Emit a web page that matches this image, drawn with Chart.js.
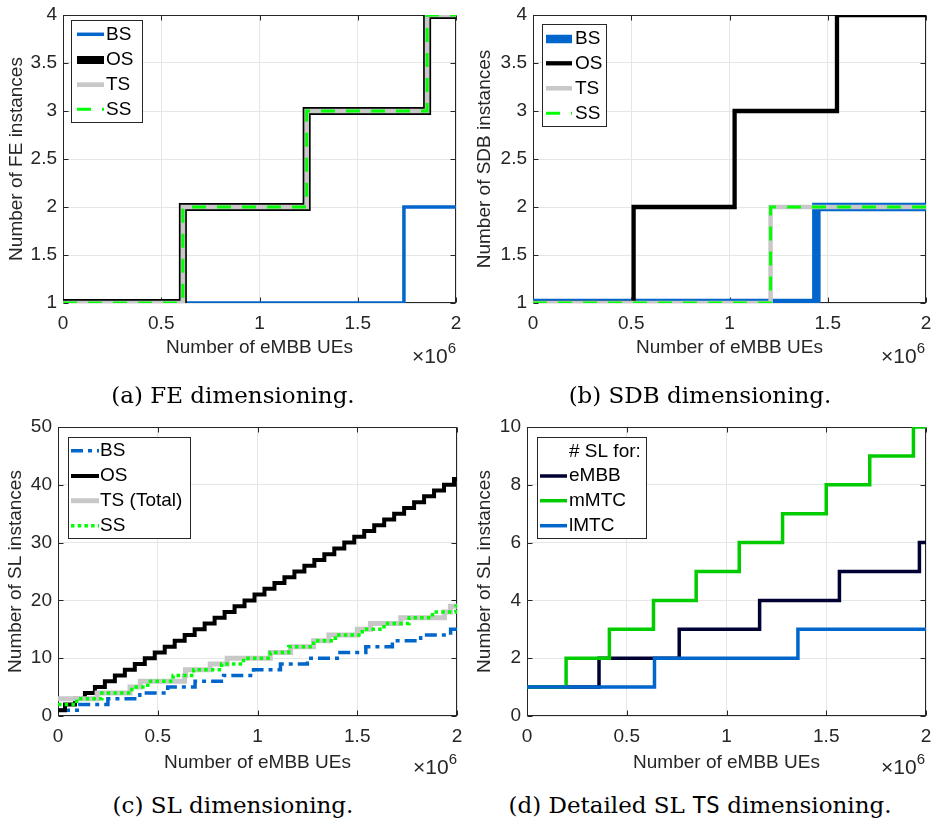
<!DOCTYPE html>
<html>
<head>
<meta charset="utf-8">
<script src="https://cdn.jsdelivr.net/npm/chart.js@4/dist/chart.umd.min.js"></script>
<style>
  body { margin: 0; background: #fff; width: 933px; height: 823px; position: relative; overflow: hidden; font-family: "Liberation Sans", Arial, sans-serif; }
  canvas { position: absolute; }
  .cap { position: absolute; width: 466px; text-align: center; font-family: "DejaVu Serif", serif; font-size: 23px; line-height: 28px; color: #000; white-space: nowrap; }
  .cap .tt { font-family: "DejaVu Sans Mono", monospace; }
  .exp { position: absolute; font-family: "Liberation Sans", Arial, sans-serif; font-size: 21px; line-height: 22px; color: #262626; white-space: nowrap; }
  .exp .sup { font-size: 15px; position: relative; top: -10px; }
</style>
</head>
<body>
<canvas id="chartA" width="466" height="360" style="left:0;top:0"></canvas>
<canvas id="chartB" width="467" height="360" style="left:466px;top:0"></canvas>
<canvas id="chartC" width="466" height="376" style="left:0;top:400px"></canvas>
<canvas id="chartD" width="467" height="376" style="left:466px;top:400px"></canvas>

<div class="exp" style="left:412px;top:345px">×10<span class="sup">6</span></div>
<div class="exp" style="left:881px;top:345px">×10<span class="sup">6</span></div>
<div class="exp" style="left:413px;top:756px">×10<span class="sup">6</span></div>
<div class="exp" style="left:881px;top:756px">×10<span class="sup">6</span></div>

<div class="cap" style="left:0;top:381px">(a) FE dimensioning.</div>
<div class="cap" style="left:467px;top:381px">(b) SDB dimensioning.</div>
<div class="cap" style="left:0;top:791px">(c) SL dimensioning.</div>
<div class="cap" style="left:467px;top:791px">(d) Detailed SL <span class="tt">TS</span> dimensioning.</div>

<script>
// x values are in units of 10^6 eMBB UEs; each x is where a step starts

// (a) FE dimensioning
const feBS_x = [0, 1.735, 2];
const feBS_y = [1, 2, 2];
const feOS_x = [0, 0.61, 1.24, 1.853, 2];
const feOS_y = [1, 2, 3, 4, 4];
const feTS_x = [0, 0.61, 1.24, 1.853, 2];
const feTS_y = [1, 2, 3, 4, 4];
const feSS_x = [0, 0.61, 1.24, 1.853, 2];
const feSS_y = [1, 2, 3, 4, 4];

// (b) SDB dimensioning
const sdbBS_x = [0, 1.442, 2];
const sdbBS_y = [1, 2, 2];
const sdbOS_x = [0, 0.512, 1.026, 1.547, 2];
const sdbOS_y = [1, 2, 3, 4, 4];
const sdbTS_x = [0, 1.209, 2];
const sdbTS_y = [1, 2, 2];
const sdbSS_x = [0, 1.209, 2];
const sdbSS_y = [1, 2, 2];

// (c) SL dimensioning
const slBS_x = [0, 0.11, 0.25, 0.41, 0.55, 0.687, 0.83, 0.98, 1.115, 1.25, 1.40, 1.543, 1.676, 1.818, 1.968, 2];
const slBS_y = [1, 2, 3, 4, 5, 6, 7, 8, 9, 10, 11, 12, 13, 14, 15, 15];
const slOS_x = [0, 0.035, 0.085, 0.135, 0.185, 0.235, 0.285, 0.335, 0.385, 0.435, 0.485,
  0.535, 0.585, 0.635, 0.685, 0.735, 0.785, 0.835, 0.885, 0.935, 0.985,
  1.035, 1.085, 1.135, 1.185, 1.235, 1.285, 1.335, 1.385, 1.435, 1.485,
  1.535, 1.585, 1.635, 1.685, 1.735, 1.785, 1.835, 1.885, 1.935, 1.985, 2];
const slOS_y = [1, 2, 3, 4, 5, 6, 7, 8, 9, 10, 11, 12, 13, 14, 15, 16, 17, 18, 19, 20, 21,
  22, 23, 24, 25, 26, 27, 28, 29, 30, 31, 32, 33, 34, 35, 36, 37, 38, 39, 40, 41, 41];
const slTS_x = [0, 0.196, 0.361, 0.413, 0.634, 0.639, 0.763, 0.848, 1.064, 1.166, 1.281, 1.358, 1.50, 1.566, 1.718, 1.937, 1.967, 2];
const slTS_y = [3, 4, 5, 6, 7, 8, 9, 10, 11, 12, 13, 14, 15, 16, 17, 18, 19, 19];
const slSS_x = [0, 0.094, 0.22, 0.37, 0.45, 0.577, 0.68, 0.82, 0.93, 1.064, 1.156, 1.281, 1.39, 1.525, 1.634, 1.76, 1.877, 1.994, 2];
const slSS_y = [2, 3, 4, 5, 6, 7, 8, 9, 10, 11, 12, 13, 14, 15, 16, 17, 18, 19, 19];

// (d) detailed SL TS dimensioning
const tsEMBB_x = [0, 0.361, 0.763, 1.166, 1.566, 1.967, 2];
const tsEMBB_y = [1, 2, 3, 4, 5, 6, 6];
const tsMMTC_x = [0, 0.196, 0.413, 0.634, 0.848, 1.064, 1.281, 1.50, 1.718, 1.937, 2];
const tsMMTC_y = [1, 2, 3, 4, 5, 6, 7, 8, 9, 10, 10];
const tsLMTC_x = [0, 0.639, 1.358, 2];
const tsLMTC_y = [1, 2, 3, 3];

const FONT = '"Liberation Sans", Arial, sans-serif';
Chart.defaults.font.family = FONT;
Chart.defaults.font.size = 19;
Chart.defaults.color = '#262626';

const BLUE = '#0066cc', GRAY = '#c8c8c8', LIME = '#00ff00';

function pts(xs, ys) {
  return xs.map((x, i) => ({ x: x, y: ys[i] }));
}

function line(label, xs, ys, color, width, order, dash) {
  return {
    label: label,
    data: pts(xs, ys),
    borderColor: color,
    borderWidth: width,
    borderDash: dash || [],
    stepped: 'before',
    pointRadius: 0,
    fill: false,
    order: order
  };
}

// plain number labels: 1, 1.5, 2 ... (not 1.0, 2.0)
const plainTick = v => String(Math.round(v * 10) / 10);

// MATLAB style box with inward ticks
const frame = {
  id: 'frame',
  beforeDatasetsDraw(chart) {
    const { ctx, chartArea: a, scales } = chart;
    const L = Math.round(a.left) + 0.5, R = Math.round(a.right) - 0.5;
    const T = Math.round(a.top) + 0.5, B = Math.round(a.bottom) - 0.5;
    ctx.save();
    ctx.strokeStyle = '#262626';
    ctx.lineWidth = 1;
    ctx.beginPath();
    scales.x.ticks.forEach(t => {
      const px = Math.round(scales.x.getPixelForValue(t.value)) + 0.5;
      ctx.moveTo(px, B); ctx.lineTo(px, B - 5);
      ctx.moveTo(px, T); ctx.lineTo(px, T + 5);
    });
    scales.y.ticks.forEach(t => {
      const py = Math.round(scales.y.getPixelForValue(t.value)) + 0.5;
      ctx.moveTo(L, py); ctx.lineTo(L + 5, py);
      ctx.moveTo(R, py); ctx.lineTo(R - 5, py);
    });
    ctx.stroke();
    ctx.strokeRect(L, T, R - L, B - T);
    ctx.restore();
  }
};

const boxLegend = {
  id: 'boxLegend',
  afterDraw(chart, args, o) {
    if (!o || o.x === undefined) return;
    const ctx = chart.ctx;
    ctx.save();
    ctx.fillStyle = '#fff';
    ctx.fillRect(o.x, o.y, o.w, o.h);
    ctx.strokeStyle = '#262626';
    ctx.lineWidth = 1;
    ctx.strokeRect(Math.round(o.x) + 0.5, Math.round(o.y) + 0.5, o.w, o.h);
    ctx.font = '19px ' + FONT;
    ctx.fillStyle = '#000';
    ctx.textBaseline = 'middle';
    let row = 0;
    if (o.title) {
      ctx.fillText(o.title, o.titleX, o.rows[0]);
      row = 1;
    }
    chart.data.datasets.forEach((ds, i) => {
      const y = o.rows[row + i];
      ctx.beginPath();
      ctx.strokeStyle = ds.borderColor;
      ctx.lineWidth = ds.borderWidth;
      ctx.setLineDash(ds.borderDash || []);
      ctx.moveTo(o.x1, y);
      ctx.lineTo(o.x2, y);
      ctx.stroke();
      ctx.setLineDash([]);
      ctx.fillText(ds.label, o.textX, y);
    });
    ctx.restore();
  }
};

function makeChart(id, datasets, p) {
  return new Chart(document.getElementById(id), {
    type: 'line',
    data: { datasets: datasets },
    plugins: [frame, boxLegend],
    options: {
      responsive: false,
      animation: false,
      events: [],
      layout: { padding: p.pad },
      plugins: {
        legend: { display: false },
        tooltip: { enabled: false },
        boxLegend: p.legend
      },
      scales: {
        x: {
          type: 'linear',
          min: 0, max: 2,
          afterFit: s => { s.height = p.xH; s.paddingLeft = 0; s.paddingRight = 0; },
          ticks: { stepSize: 0.5, padding: 9, maxRotation: 0, callback: plainTick, font: { size: 19 } },
          grid: { color: '#e6e6e6', drawTicks: false },
          border: { display: false },
          title: { display: true, text: 'Number of eMBB UEs', font: { size: 19 }, padding: { top: 0, bottom: 0 } }
        },
        y: {
          type: 'linear',
          min: p.yMin, max: p.yMax,
          afterFit: s => { s.width = p.yW; s.paddingTop = 0; s.paddingBottom = 0; },
          ticks: { stepSize: p.yStep, padding: 6, callback: plainTick, font: { size: 19 } },
          grid: { color: '#e6e6e6', drawTicks: false },
          border: { display: false },
          title: { display: true, text: p.yTitle, font: { size: 19 }, padding: { top: p.yTitlePad, bottom: 0 } }
        }
      }
    }
  });
}

makeChart('chartA', [
  line('BS', feBS_x, feBS_y, BLUE, 3.5, 4),
  line('OS', feOS_x, feOS_y, '#000', 8, 3),
  line('TS', feTS_x, feTS_y, GRAY, 4.7, 2),
  line('SS', feSS_x, feSS_y, LIME, 3, 1, [14, 11])
], {
  pad: { left: 0, top: 15, right: 10, bottom: 1 }, xH: 56, yW: 63,
  yMin: 1, yMax: 4, yStep: 0.5, yTitle: 'Number of FE instances', yTitlePad: 5.6,
  legend: { x: 71, y: 20, w: 71, h: 102, rows: [34.3, 60, 84.7, 109.3], x1: 77, x2: 104, textX: 106 }
});

makeChart('chartB', [
  line('BS', sdbBS_x, sdbBS_y, BLUE, 8.5, 4),
  line('OS', sdbOS_x, sdbOS_y, '#000', 4.3, 3),
  line('TS', sdbTS_x, sdbTS_y, GRAY, 4.5, 2),
  line('SS', sdbSS_x, sdbSS_y, LIME, 3, 1, [14, 11])
], {
  pad: { left: 0, top: 15, right: 7, bottom: 1 }, xH: 56, yW: 67,
  yMin: 1, yMax: 4, yStep: 0.5, yTitle: 'Number of SDB instances', yTitlePad: 7.6,
  legend: { x: 76, y: 24, w: 64, h: 102, rows: [39, 63.3, 88.3, 113.3], x1: 80, x2: 106, textX: 109 }
});

makeChart('chartC', [
  line('BS', slBS_x, slBS_y, BLUE, 3.5, 4, [12, 5, 4, 5]),
  line('OS', slOS_x, slOS_y, '#000', 4, 3),
  line('TS (Total)', slTS_x, slTS_y, GRAY, 5, 2),
  line('SS', slSS_x, slSS_y, LIME, 3.5, 1, [3.5, 3.2])
], {
  pad: { left: 0, top: 27, right: 9, bottom: 2 }, xH: 58, yW: 58,
  yMin: 0, yMax: 50, yStep: 10, yTitle: 'Number of SL instances', yTitlePad: 4.3,
  legend: { x: 68, y: 37, w: 122, h: 101, rows: [50.7, 76, 100.7, 125.7], x1: 71, x2: 99, textX: 100 }
});

makeChart('chartD', [
  line('eMBB', tsEMBB_x, tsEMBB_y, '#000033', 3.5, 3),
  line('mMTC', tsMMTC_x, tsMMTC_y, '#00cc00', 3.5, 2),
  line('lMTC', tsLMTC_x, tsLMTC_y, BLUE, 3.5, 1)
], {
  pad: { left: 0, top: 27, right: 7, bottom: 2 }, xH: 58, yW: 61,
  yMin: 0, yMax: 10, yStep: 2, yTitle: 'Number of SL instances', yTitlePad: 7.6,
  legend: { x: 71, y: 37, w: 109, h: 101, title: '# SL for:', titleX: 103,
            rows: [51.7, 76, 100.7, 125.7], x1: 74, x2: 101, textX: 103 }
});
</script>
</body>
</html>
